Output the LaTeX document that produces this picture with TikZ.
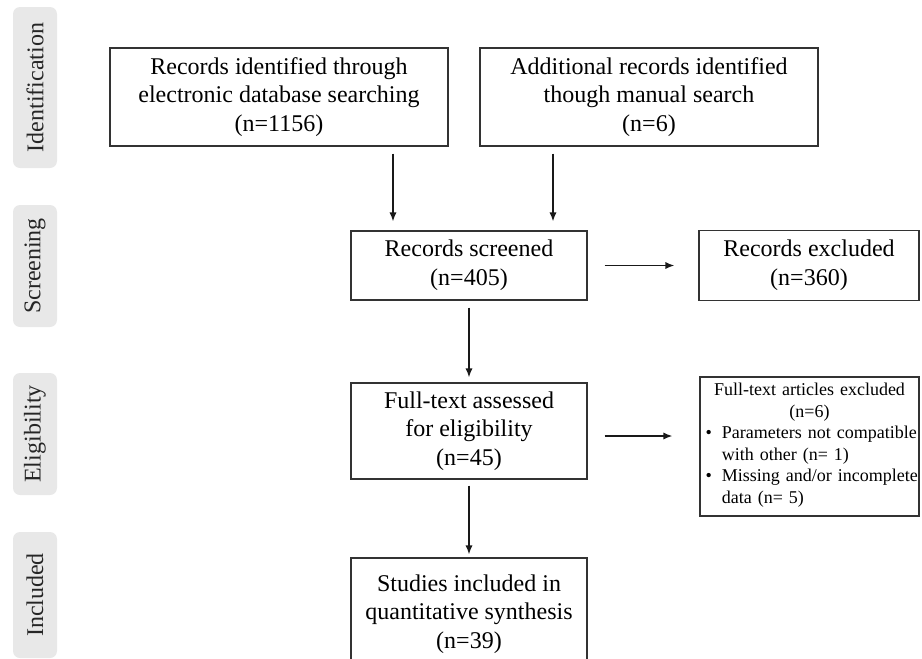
\documentclass[tikz,border=0pt]{standalone}
\usepackage{fontspec}
\setmainfont{Liberation Serif}
\usetikzlibrary{arrows.meta}

\begin{document}
\begin{tikzpicture}[x=0.5pt,y=-0.5pt,>={Latex[length=4.5pt,width=3.6pt]},
    box/.style={rectangle, draw=black!80, line width=0.6pt, align=center, inner sep=0pt, font=\fontsize{12}{14.3}\selectfont},
    stage/.style={rectangle, rounded corners=3.5pt, fill=black!9, minimum height=22pt, rotate=90, text=black!85, font=\fontsize{12}{14}\selectfont},
    arr/.style={->, line width=0.75pt, black!90}]
            \useasboundingbox (0,0) rectangle (922,659);

            % phases on the left
            \node [stage, minimum width=80.5pt](ident) at (35,87.5){Identification};
            \node [stage, minimum width=61pt](scr) at (35,266){Screening};
            \node [stage, minimum width=61pt](elig) at (35,434){Eligibility};
            \node [stage, minimum width=63pt](incl) at (35,595){Included};

            \node [box, minimum width=169pt, minimum height=49pt](db) at (279,97){Records identified through\\electronic database searching\\(n=1156)};
            \node [box, minimum width=169pt, minimum height=49pt](man) at (649,97){Additional records identified\\though manual search\\(n=6)};
            \node [box, minimum width=118pt, minimum height=34.5pt](screen) at (469,265.5){Records screened\\(n=405)};
            \node [box, minimum width=110pt, minimum height=35pt](excl) at (809,265.5){Records excluded\\(n=360)};
            \node [box, minimum width=118pt, minimum height=48pt](full) at (469,431){Full-text assessed\\for eligibility\\(n=45)};
            \node [box, minimum width=109.5pt, minimum height=69.5pt, text width=106pt, font=\fontsize{9}{10.75}\selectfont](ftex) at (809.5,446.5){%
                Full-text articles excluded\\(n=6)\\
                \begin{tabular}[t]{@{\hspace{1pt}}l@{\hspace{5pt}}l@{}}
                    \textbullet & Parameters not compatible\\
                                & with other (n=~1)\\
                    \textbullet & Missing and/or incomplete\\
                                & data (n=~5)
                \end{tabular}};
            \node [box, minimum width=118pt, minimum height=56pt](stud) at (469,614){Studies included in\\quantitative synthesis\\(n=39)};

            \coordinate (l) at (393,0);
            \coordinate (r) at (553,0);
            \coordinate (m) at (0,436);

            \draw [arr, shorten <=3.5pt, shorten >=4.5pt] (db.south -| l) -- (screen.north -| l);
            \draw [arr, shorten <=3.5pt, shorten >=4.5pt] (man.south -| r) -- (screen.north -| r);
            \draw [arr, shorten <=8.5pt, shorten >=12pt] (screen.east) -- (excl.west);
            \draw [arr, shorten <=3.5pt, shorten >=2.5pt] (screen.south) -- (full.north);
            \draw [arr, shorten <=8.5pt, shorten >=13.5pt] (full.east |- m) -- (ftex.west |- m);
            \draw [arr, shorten <=3pt, shorten >=1.5pt] (full.south) -- (stud.north);
\end{tikzpicture}
\end{document}
